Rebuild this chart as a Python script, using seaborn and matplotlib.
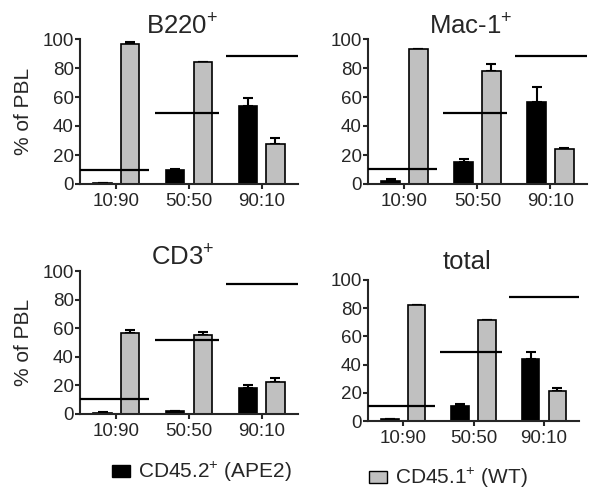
import matplotlib
matplotlib.use("Agg")
import matplotlib.pyplot as plt
from matplotlib.patches import Patch
from matplotlib.container import BarContainer
import seaborn as sns
import pandas as pd
import numpy as np

# ---------------- data ----------------
ratios = ["10:90", "50:50", "90:10"]
panels = ["B220$^{+}$", "Mac-1$^{+}$", "CD3$^{+}$", "total"]
genotypes = ["CD45.2$^{+}$ (APE2)", "CD45.1$^{+}$ (WT)"]

ape2_mean = {"B220$^{+}$": [0.7, 9.9, 53.6],
             "Mac-1$^{+}$": [2.3, 15.2, 56.3],
             "CD3$^{+}$": [1.0, 1.9, 17.9],
             "total": [1.4, 10.7, 44.3]}
ape2_err = {"B220$^{+}$": [0.2, 0.4, 5.7],
            "Mac-1$^{+}$": [1.1, 2.0, 10.6],
            "CD3$^{+}$": [0.3, 0.3, 2.1],
            "total": [0.3, 1.1, 4.3]}
wt_mean = {"B220$^{+}$": [96.8, 83.9, 27.8],
           "Mac-1$^{+}$": [93.1, 78.2, 24.1],
           "CD3$^{+}$": [56.5, 55.3, 22.3],
           "total": [82.2, 71.6, 21.6]}
wt_err = {"B220$^{+}$": [0.9, 0.3, 3.7],
          "Mac-1$^{+}$": [0.3, 4.6, 0.7],
          "CD3$^{+}$": [1.9, 1.7, 2.8],
          "total": [0.4, 0.3, 1.9]}
expected = {"B220$^{+}$": [10.0, 49.0, 88.5],
            "Mac-1$^{+}$": [10.6, 48.7, 88.0],
            "CD3$^{+}$": [10.7, 51.4, 91.0],
            "total": [10.7, 48.6, 88.2]}

colors = ["#000000", "#C0C0C0"]

# ---------------- style ----------------
sns.set_style("ticks")
plt.rcParams["font.family"] = ["Liberation Sans", "DejaVu Sans"]
plt.rcParams["mathtext.fontset"] = "custom"
plt.rcParams["mathtext.rm"] = "Liberation Sans"
plt.rcParams["mathtext.it"] = "Liberation Sans"
plt.rcParams["mathtext.bf"] = "Liberation Sans"
plt.rcParams["mathtext.default"] = "regular"

fig = plt.figure(figsize=(6, 5), dpi=100)
positions = [
    [0.1333, 0.632, 0.3633, 0.290],
    [0.6133, 0.632, 0.3650, 0.290],
    [0.1333, 0.172, 0.3633, 0.286],
    [0.6133, 0.158, 0.3520, 0.282],
]
title_pads = [-1.5, -0.5, 0, 8]
line_left = [-0.50, 0.53, 1.51]
line_right = [0.45, 1.41, 2.50]

for k, panel in enumerate(panels):
    ax = fig.add_axes(positions[k])
    rows = []
    for i, r in enumerate(ratios):
        rows.append({"ratio": r, "genotype": genotypes[0], "value": ape2_mean[panel][i]})
        rows.append({"ratio": r, "genotype": genotypes[1], "value": wt_mean[panel][i]})
    df = pd.DataFrame(rows)
    sns.barplot(data=df, x="ratio", y="value", hue="genotype", order=ratios,
                hue_order=genotypes, palette=colors, width=0.76, gap=0.34,
                edgecolor="black", linewidth=1.2, legend=False, ax=ax, zorder=2,
                errorbar=None)
    errs = [ape2_err[panel], wt_err[panel]]
    bar_conts = [c for c in ax.containers if isinstance(c, BarContainer)]
    for c, cont in enumerate(bar_conts):
        xs = [b.get_x() + b.get_width() / 2 for b in cont.patches]
        hs = [b.get_height() for b in cont.patches]
        ax.errorbar(xs, hs, yerr=[np.zeros(len(xs)), errs[c]], fmt="none",
                    ecolor="black", elinewidth=1.5, capsize=3.6, capthick=1.5,
                    zorder=1)
    for i, v in enumerate(expected[panel]):
        ax.hlines(v, line_left[i], line_right[i], colors="black",
                  linewidth=1.6, zorder=4)
    ax.set_xlim(-0.5, 2.5)
    ax.set_ylim(0, 100)
    ax.set_yticks([0, 20, 40, 60, 80, 100])
    ax.set_xlabel("")
    if k % 2 == 0:
        ax.set_ylabel("% of PBL", fontsize=15, labelpad=7)
    else:
        ax.set_ylabel("")
    ax.set_title(panel, fontsize=18.5, pad=title_pads[k], x=0.47)
    for s in ["top", "right"]:
        ax.spines[s].set_visible(False)
    for s in ["left", "bottom"]:
        ax.spines[s].set_linewidth(1.5)
    ax.tick_params(axis="y", length=3.5, width=1.5, labelsize=13.5, pad=1)
    ax.tick_params(axis="x", length=3.5, width=1.5, labelsize=13.5, pad=3)

h1 = [Patch(facecolor=colors[0], edgecolor="black", linewidth=1.0)]
h2 = [Patch(facecolor=colors[1], edgecolor="black", linewidth=1.0)]
fig.legend(handles=h1, labels=[genotypes[0]], loc="center left",
           bbox_to_anchor=(0.187, 0.056), frameon=False, fontsize=15,
           handlelength=0.85, handleheight=0.5, handletextpad=0.4,
           borderpad=0, borderaxespad=0)
fig.legend(handles=h2, labels=[genotypes[1]], loc="center left",
           bbox_to_anchor=(0.615, 0.044), frameon=False, fontsize=15,
           handlelength=0.85, handleheight=0.5, handletextpad=0.4,
           borderpad=0, borderaxespad=0)

fig.savefig("out.png", dpi=100)
